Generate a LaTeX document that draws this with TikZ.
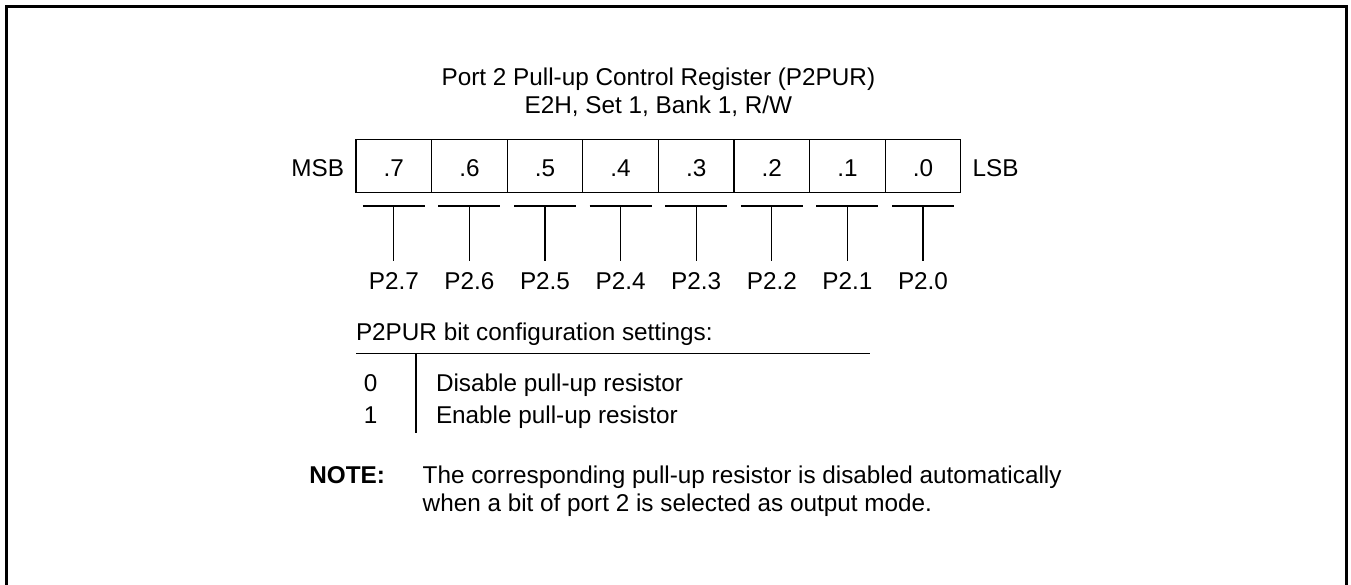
\documentclass[tikz,border=0pt]{standalone}
\usepackage{fontspec}
\setmainfont{Liberation Sans}
\begin{document}
\begin{tikzpicture}[x=1pt,y=-1pt,
  txt/.style={inner sep=0pt,outer sep=0pt,font=\fontsize{24.3}{27.5}\selectfont},
  cellbox/.style={draw,line width=1.3pt,minimum width=75.6pt,minimum height=53.4pt,inner sep=0pt,outer sep=0pt,anchor=north west},
  thin/.style={line width=1.2pt},
  frame/.style={line width=2.2pt}]
\useasboundingbox (0,0) rectangle (1351,585);
% open frame
\draw[frame] (6.5,590) -- (6.5,6.5) -- (1346.5,6.5) -- (1346.5,590);
% title
\node[txt,anchor=base] (t1) at (658.4,86) {Port 2 Pull-up Control Register (P2PUR)};
\node[txt,anchor=base] (t2) at (658.4,113.3) {E2H, Set 1, Bank 1, R/W};
% register cells
\foreach \i/\b/\p in {0/.7/P2.7,1/.6/P2.6,2/.5/P2.5,3/.4/P2.4,4/.3/P2.3,5/.2/P2.2,6/.1/P2.1,7/.0/P2.0}{
  \node[cellbox] (c\i) at ({356+\i*75.6},139.3) {};
  \node[txt,anchor=base] (v\i) at ({393.8+\i*75.6},176.7) {\b};
  \coordinate (ul\i) at ({362.8+\i*75.6},206);
  \coordinate (ur\i) at ({424.8+\i*75.6},206);
  \coordinate (um\i) at ({393.8+\i*75.6},206);
  \coordinate (ud\i) at ({393.8+\i*75.6},260.7);
  \draw[thin] (ul\i) -- (ur\i);
  \draw[thin] (um\i) -- (ud\i);
  \node[txt,anchor=base] (p\i) at ({393.8+\i*75.6},289.3) {\p};
}
\node[txt,anchor=base east] (msb) at (344,176.7) {MSB};
\node[txt,anchor=base west] (lsb) at (972.7,176.7) {LSB};
% settings table
\node[txt,anchor=base west] (st) at (356,340) {P2PUR bit configuration settings:};
\coordinate (hl) at (356,353.3);
\coordinate (hr) at (870,353.3);
\coordinate (vt) at (416,353.3);
\coordinate (vb) at (416,432.7);
\draw[line width=1.4pt] (hl) -- (hr);
\draw[thin] (vt) -- (vb);
\node[txt,anchor=base] (z0) at (370.7,391.3) {0};
\node[txt,anchor=base] (z1) at (370.7,423.6) {1};
\node[txt,anchor=base west] (d0) at (436,391.3) {Disable pull-up resistor};
\node[txt,anchor=base west] (d1) at (436,423.6) {Enable pull-up resistor};
% note
\node[txt,anchor=base west,font=\fontsize{24.3}{27.5}\selectfont\bfseries] (note) at (309.3,483.3) {NOTE:};
\node[txt,anchor=base west] (n1) at (422.7,483.3) {The corresponding pull-up resistor is disabled automatically};
\node[txt,anchor=base west] (n2) at (422.7,511) {when a bit of port 2 is selected as output mode.};
\end{tikzpicture}
\end{document}
